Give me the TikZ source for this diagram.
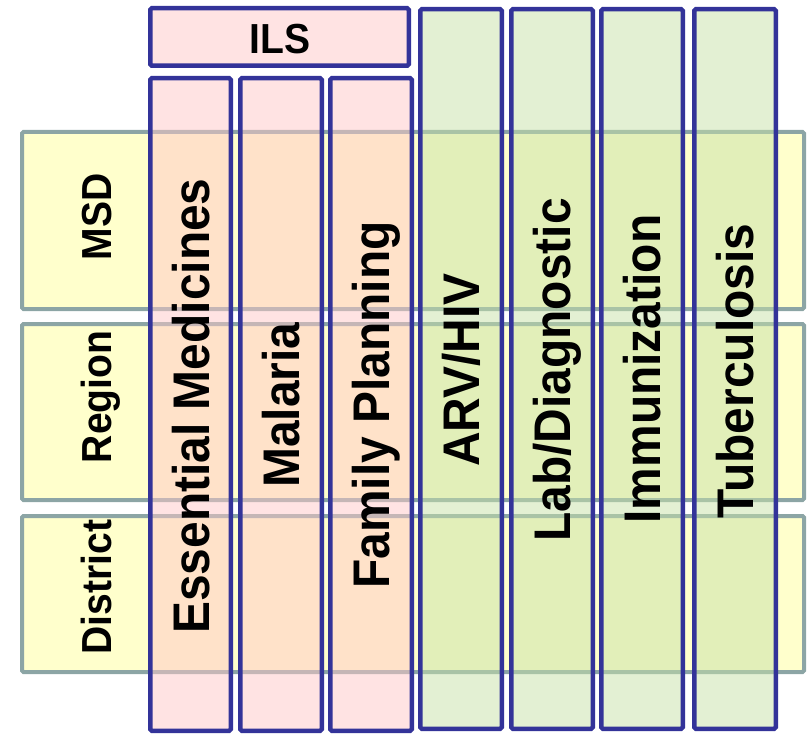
\documentclass[tikz,border=0pt]{standalone}
\usepackage{fontspec}
\newfontfamily\labfont{Liberation Sans}[FakeStretch=0.93]
\definecolor{bandfill}{HTML}{FFFFCC}
\definecolor{banddraw}{HTML}{8CA5A5}
\definecolor{colborder}{HTML}{333399}
\definecolor{pinkfill}{HTML}{FFC7C7}
\definecolor{greenfill}{RGB}{199,225,167}
\tikzset{
  band/.style={draw=banddraw, fill=bandfill, line width=4pt, rounded corners=1.5pt, inner sep=0pt, outer sep=0pt},
  colbox/.style={draw=colborder, line width=4.5pt, fill opacity=0.5, draw opacity=1, rounded corners=1.5pt, inner sep=0pt, outer sep=0pt},
  pinkcol/.style={colbox, fill=pinkfill},
  greencol/.style={colbox, fill=greenfill},
  bigtext/.style={font=\labfont\bfseries\fontsize{51.5}{51.5}\selectfont, inner sep=0pt, anchor=base, rotate=90},
  rowtext/.style={font=\labfont\bfseries\fontsize{42}{42}\selectfont, inner sep=0pt, anchor=base, rotate=90},
}
\begin{document}
\begin{tikzpicture}[x=1pt,y=-1pt]
\useasboundingbox (0,0) rectangle (808,735);
% bands
\node[band, minimum width=782pt, minimum height=177pt] (msd) at (413,220.5) {};
\node[band, minimum width=782pt, minimum height=176pt] (region) at (413,412) {};
\node[band, minimum width=782pt, minimum height=156pt] (district) at (413,594) {};
% columns
\node[pinkcol, minimum width=258.5pt, minimum height=57.5pt] (ils) at (279.5,37) {};
\node[pinkcol, minimum width=80.5pt, minimum height=652.5pt] (ess) at (190.5,404.5) {};
\node[pinkcol, minimum width=81.5pt, minimum height=652.5pt] (mal) at (281,404.5) {};
\node[pinkcol, minimum width=81.5pt, minimum height=652.5pt] (fam) at (371,404.5) {};
\node[greencol, minimum width=81.5pt, minimum height=719.5pt] (arv) at (461,369) {};
\node[greencol, minimum width=81.5pt, minimum height=719.5pt] (lab) at (552,369) {};
\node[greencol, minimum width=81.5pt, minimum height=719.5pt] (imm) at (642,369) {};
\node[greencol, minimum width=81.5pt, minimum height=719.5pt] (tub) at (735,369) {};
% texts
\node[font=\labfont\bfseries\fontsize{42}{42}\selectfont, inner sep=0pt, anchor=base] (ilst) at (280,54) {ILS};
\node[rowtext] (msdt) at (111,217) {MSD};
\node[rowtext] (regiont) at (111,397) {Region};
\node[rowtext] (districtt) at (111,587) {District};
\node[bigtext] (esst) at (209,406) {Essential Medicines};
\node[bigtext] (malt) at (299.5,405) {Malaria};
\node[bigtext] (famt) at (389.5,405) {Family Planning};
\node[bigtext] (arvt) at (479.5,370) {ARV/HIV};
\node[bigtext] (labt) at (570.5,370) {Lab/Diagnostic};
\node[bigtext] (immt) at (660.5,369) {Immunization};
\node[bigtext] (tubt) at (753.5,371) {Tuberculosis};
\end{tikzpicture}
\end{document}
